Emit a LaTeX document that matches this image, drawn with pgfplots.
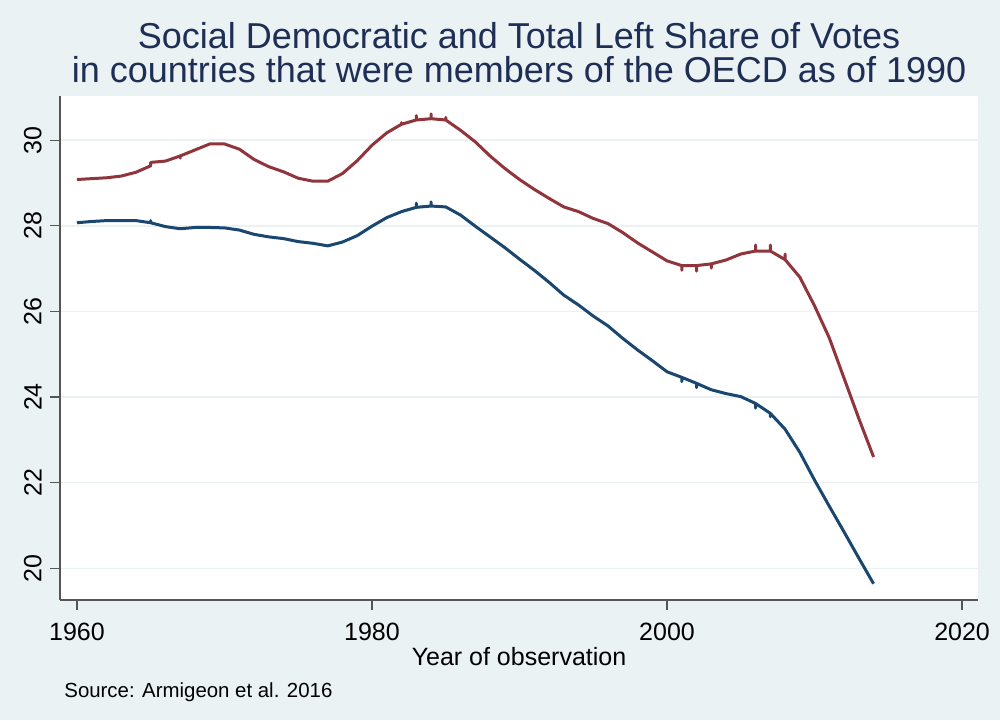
\documentclass[border=0pt]{standalone}
\usepackage{pgfplots}
\pgfplotsset{compat=1.18}
\usepackage{fontspec}
\setmainfont{Liberation Sans}
\definecolor{bgc}{HTML}{EAF2F3}
\definecolor{titc}{HTML}{1F2E55}
\definecolor{sdblue}{HTML}{1A476F}
\definecolor{leftred}{HTML}{90353B}
\definecolor{axc}{HTML}{555555}
\begin{document}
\begin{tikzpicture}
\useasboundingbox (-30pt,-60pt) rectangle (470pt,300pt);
\fill[bgc] (-30pt,-60pt) rectangle (470pt,300pt);
\begin{axis}[
  at={(0,0)}, anchor=south west,
  scale only axis, width=459pt, height=252pt,
  xmin=1958.85, xmax=2021.08, ymin=19.26, ymax=31.03,
  axis background/.style={fill=white},
  axis lines*=left,
  axis line style={axc, line width=0.6pt},
  tick style={axc, line width=0.6pt},
  major tick length=5pt,
  tick align=outside,
  xtick={1960,1980,2000,2020},
  ytick={20,22,24,26,28,30},
  ymajorgrids,
  major grid style={bgc, line width=0.8pt},
  /pgf/number format/.cd, 1000 sep={}, assume math mode=true,
  /pgfplots/.cd,
  tick label style={font=\fontsize{12.5}{15}\selectfont},
  xticklabel style={anchor=north, inner sep=0pt},
  yticklabel style={rotate=90, anchor=south, inner sep=0pt},
  xticklabel shift=6.5pt,
  yticklabel shift=4pt,
  title={Social Democratic and Total Left Share of Votes\\in countries that were members of the OECD as of 1990},
  title style={align=center, font=\fontsize{18}{17}\selectfont, text=titc,
    at={(axis description cs:0.5,1)}, anchor=south, inner sep=0pt, yshift=0.5pt},
  xlabel={Year of observation},
  xlabel style={font=\fontsize{12.5}{15}\selectfont,
    at={(axis description cs:0.5,0)}, anchor=base, inner sep=0pt, yshift=-32.5pt},
]
% total left share
\addplot[leftred, line width=1.5pt, line join=round, mark=none] coordinates {
(1960,29.08) (1961,29.10) (1962,29.12) (1963,29.16) (1964,29.25)
(1965,29.40) (1965,29.48) (1966,29.51) (1967,29.63) (1967,29.58) (1967,29.63)
(1968,29.77) (1969,29.91) (1970,29.91) (1971,29.79) (1972,29.55)
(1973,29.38) (1974,29.26) (1975,29.11) (1976,29.04) (1977,29.04)
(1978,29.22) (1979,29.52) (1980,29.88) (1981,30.17)
(1982,30.37) (1982,30.41) (1982,30.37)
(1983,30.47) (1983,30.57) (1983,30.47)
(1984,30.50) (1984,30.61) (1984,30.50)
(1985,30.47) (1985,30.53) (1985,30.47)
(1986,30.23) (1987,29.96) (1988,29.63) (1989,29.34) (1990,29.08)
(1991,28.85) (1992,28.64) (1993,28.44) (1994,28.33) (1995,28.17)
(1996,28.05) (1997,27.84) (1998,27.60) (1999,27.39) (2000,27.18)
(2001,27.07) (2001,26.96) (2001,27.07)
(2002,27.07) (2002,26.94) (2002,27.07)
(2003,27.11) (2003,27.01) (2003,27.11)
(2004,27.20) (2005,27.34)
(2006,27.41) (2006,27.55) (2006,27.41)
(2007,27.41) (2007,27.55) (2007,27.41)
(2008,27.21) (2008,27.34) (2008,27.21)
(2009,26.80) (2010,26.13) (2011,25.38) (2012,24.44) (2013,23.50) (2014,22.60)
};
% social democratic share
\addplot[sdblue, line width=1.5pt, line join=round, mark=none] coordinates {
(1960,28.07) (1961,28.10) (1962,28.12) (1963,28.12) (1964,28.12)
(1965,28.07) (1965,28.12) (1965,28.07)
(1966,27.98) (1967,27.93) (1968,27.96) (1969,27.96) (1970,27.95)
(1971,27.90) (1972,27.80) (1973,27.74) (1974,27.70) (1975,27.63)
(1976,27.59) (1977,27.53) (1978,27.62) (1979,27.77) (1980,27.99)
(1981,28.19) (1982,28.33)
(1983,28.43) (1983,28.53) (1983,28.43)
(1984,28.46) (1984,28.56) (1984,28.46)
(1985,28.44) (1986,28.25) (1987,27.99) (1988,27.74) (1989,27.49)
(1990,27.22) (1991,26.96) (1992,26.68) (1993,26.38) (1994,26.15)
(1995,25.89) (1996,25.66) (1997,25.37) (1998,25.10) (1999,24.85)
(2000,24.59)
(2001,24.46) (2001,24.36) (2001,24.46)
(2002,24.32) (2002,24.22) (2002,24.32)
(2003,24.17) (2004,24.08) (2005,24.01)
(2006,23.85) (2006,23.74) (2006,23.85)
(2007,23.62) (2007,23.54) (2007,23.62)
(2008,23.25) (2009,22.71) (2010,22.06) (2011,21.45) (2012,20.85)
(2013,20.24) (2014,19.64)
};
\end{axis}
\node[anchor=base west, inner sep=0pt, font=\fontsize{10.2}{12}\selectfont]
  at (2pt,-48.5pt) {Source: Armigeon et al. 2016};
\end{tikzpicture}
\end{document}
